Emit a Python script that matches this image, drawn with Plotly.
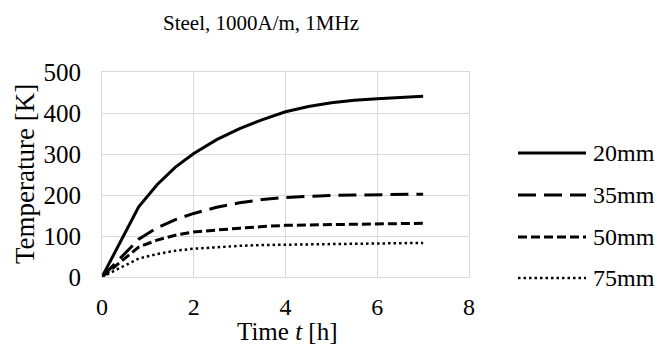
import plotly.graph_objects as go

# Data
time_h = [0, 0.8, 1.2, 1.6, 2.0, 2.5, 3.0, 3.5, 4.0, 4.5, 5.0, 5.5, 6.0, 6.5, 7.0]
temp_20mm = [0, 171, 225, 268, 301, 335, 362, 384, 403, 416, 425, 431, 435, 438, 441]
temp_35mm = [0, 92, 120, 140, 155, 170, 181, 189, 194, 197, 199, 200, 201, 201.5, 202]
temp_50mm = [0, 73, 90, 102, 110, 115, 119, 123, 126, 127, 128, 129, 129.5, 130, 131]
temp_75mm = [0, 45, 56, 64, 69, 73, 76, 78, 79, 80, 81, 81.5, 82, 82.5, 83]
series_names = ["20mm", "35mm", "50mm", "75mm"]
x_ticks = [0, 2, 4, 6, 8]
y_ticks = [0, 100, 200, 300, 400, 500]

FONT = "Times New Roman, Liberation Serif, serif"
W, H = 657, 356
L, R, T, B = 102, 469, 72, 277  # plot area in px

styles = [
    dict(dash="solid", width=3),
    dict(dash="18px,8px", width=3),
    dict(dash="9px,4px", width=3),
    dict(dash="2.5px,3px", width=2.5),
]
series = [temp_20mm, temp_35mm, temp_50mm, temp_75mm]

fig = go.Figure()
for name, ys, st in zip(series_names, series, styles):
    fig.add_trace(go.Scatter(x=time_h, y=ys, mode="lines", name=name,
                             line=dict(color="black", **st), showlegend=False))

def px_x(p):
    return (p - L) / (R - L)

def px_y(p):
    return (B - p) / (B - T)

# manual legend
legend_rows = [153, 195, 237, 278]
for name, st, ry in zip(series_names, styles, legend_rows):
    fig.add_shape(type="line", xref="paper", yref="paper",
                  x0=px_x(518), x1=px_x(586), y0=px_y(ry), y1=px_y(ry),
                  line=dict(color="black", **st))
    fig.add_annotation(xref="paper", yref="paper", x=px_x(591), y=px_y(ry),
                       text=name, showarrow=False, xanchor="left", yanchor="middle",
                       font=dict(family=FONT, size=24, color="black"))

# chart title
fig.add_annotation(xref="paper", yref="paper", x=px_x(261), y=px_y(23),
                   text="Steel, 1000A/m, 1MHz", showarrow=False,
                   xanchor="center", yanchor="middle",
                   font=dict(family=FONT, size=21, color="black"))
# axis titles
fig.add_annotation(xref="paper", yref="paper", x=px_x(287), y=px_y(331),
                   text="Time <i>t</i> [h]", showarrow=False,
                   xanchor="center", yanchor="middle",
                   font=dict(family=FONT, size=25, color="black"))
fig.add_annotation(xref="paper", yref="paper", x=px_x(25), y=px_y(174),
                   text="Temperature [K]", showarrow=False, textangle=-90,
                   xanchor="center", yanchor="middle",
                   font=dict(family=FONT, size=27, color="black"))

fig.update_layout(
    width=W, height=H,
    margin=dict(l=L, r=W - R, t=T, b=H - B),
    paper_bgcolor="white", plot_bgcolor="white",
    font=dict(family=FONT, size=24, color="black"),
    xaxis=dict(range=[0, 8], tickvals=x_ticks, showgrid=True, gridcolor="#d9d9d9",
               gridwidth=1, zeroline=False, showline=True, linecolor="#d9d9d9",
               mirror=True, ticks="outside", ticklen=8, tickcolor="rgba(0,0,0,0)"),
    yaxis=dict(range=[0, 500], tickvals=y_ticks, showgrid=True, gridcolor="#d9d9d9",
               gridwidth=1, zeroline=False, showline=True, linecolor="#d9d9d9",
               mirror=True, ticks="outside", ticklen=15, tickcolor="rgba(0,0,0,0)",
               tickfont=dict(size=25)),
)

fig.write_html("out.html", config={"displayModeBar": False},
               post_script="document.body.style.margin='0';")
